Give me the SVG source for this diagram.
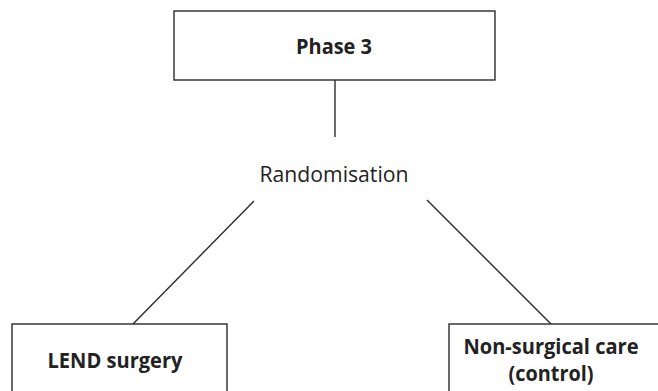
<svg xmlns="http://www.w3.org/2000/svg" width="658" height="391" viewBox="0 0 658 391">
<style>
.box{fill:#fff;stroke:#2b2b2b;stroke-width:1.4}
.t{font-family:"Open Sans","Liberation Sans",sans-serif;font-size:21px;fill:#222;text-anchor:middle}
.b{font-weight:bold}
.c{stroke:#2b2b2b;stroke-width:1.4;fill:none}
</style>
<rect width="658" height="391" fill="#fff"/>
<g id="connectors">
<line class="c" x1="335" y1="80" x2="335" y2="137"/>
<line class="c" x1="254" y1="201" x2="133" y2="324"/>
<line class="c" x1="427" y1="200" x2="551" y2="324"/>
</g>
<g id="phase3">
<rect class="box" x="174" y="11" width="321" height="69"/>
<text class="t b" x="334" y="54" textLength="76" lengthAdjust="spacingAndGlyphs">Phase 3</text>
</g>
<g id="randomisation">
<text class="t" x="334" y="182" textLength="149" lengthAdjust="spacingAndGlyphs">Randomisation</text>
</g>
<g id="lend">
<rect class="box" x="12" y="324" width="215" height="80"/>
<text class="t b" x="115" y="368" textLength="135" lengthAdjust="spacingAndGlyphs">LEND surgery</text>
</g>
<g id="control">
<rect class="box" x="449" y="324" width="220" height="80"/>
<text class="t b" x="551" y="354" textLength="175" lengthAdjust="spacingAndGlyphs">Non-surgical care</text>
<text class="t b" x="551" y="381" textLength="85" lengthAdjust="spacingAndGlyphs">(control)</text>
</g>
</svg>
